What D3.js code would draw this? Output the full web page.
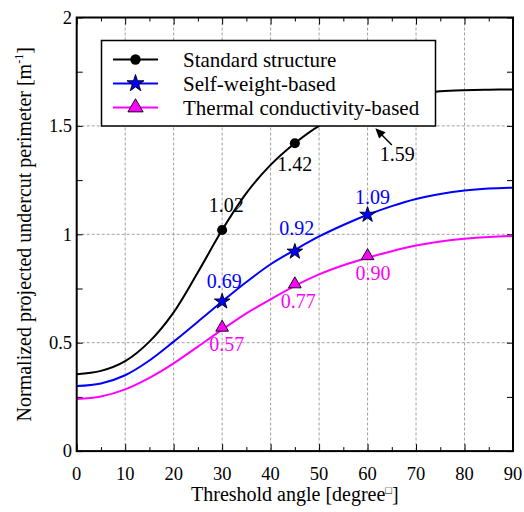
<!DOCTYPE html>
<html>
<head>
<meta charset="utf-8">
<script src="https://cdn.jsdelivr.net/npm/d3@7"></script>
<style>
  html, body { margin: 0; padding: 0; background: #fff; }
  svg { display: block; font-family: "Liberation Serif", "Times New Roman", serif; }
</style>
</head>
<body>
<div id="chart"></div>
<script>
// ---- data ----
const angles = [0, 5, 10, 15, 20, 25, 30, 35, 40, 45, 50, 55, 60, 65, 70, 75, 80, 85, 90];
const standardCurve = [0.355, 0.37, 0.415, 0.505, 0.64, 0.825, 1.02, 1.19, 1.32, 1.42, 1.50, 1.555, 1.595, 1.627, 1.648, 1.66, 1.665, 1.667, 1.668];
const selfWeightCurve = [0.30, 0.312, 0.35, 0.418, 0.505, 0.597, 0.69, 0.78, 0.862, 0.928, 0.99, 1.043, 1.09, 1.13, 1.163, 1.186, 1.202, 1.211, 1.215];
const thermalCurve = [0.24, 0.252, 0.285, 0.338, 0.405, 0.482, 0.56, 0.635, 0.70, 0.762, 0.815, 0.857, 0.892, 0.922, 0.948, 0.967, 0.98, 0.988, 0.992];

const markerAngles = [30, 45, 60];
const standardMarkers = [1.02, 1.42, 1.59];
const selfWeightMarkers = [0.69, 0.92, 1.09];
const thermalMarkers = [0.57, 0.77, 0.90];
const standardLabels = ["1.02", "1.42", "1.59"];
const selfWeightLabels = ["0.69", "0.92", "1.09"];
const thermalLabels = ["0.57", "0.77", "0.90"];

const seriesNames = ["Standard structure", "Self-weight-based", "Thermal conductivity-based"];
const xTicks = [0, 10, 20, 30, 40, 50, 60, 70, 80, 90];
const yTicks = [0, 0.5, 1, 1.5, 2];
const yTickLabels = ["0", "0.5", "1", "1.5", "2"];

// ---- layout ----
const W = 524, H = 512;
const pL = 76.7, pR = 513, pT = 17.5, pB = 451.1;

const svg = d3.select("#chart").append("svg").attr("width", W).attr("height", H);

const x = d3.scaleLinear().domain([0, 90]).range([pL, pR]);
const y = d3.scaleLinear().domain([0, 2]).range([pB, pT]);

// grid
const grid = svg.append("g").attr("stroke", "#a0a0a0").attr("stroke-width", 1).attr("stroke-dasharray", "3,2");
xTicks.slice(1, -1).forEach(t => {
  grid.append("line").attr("x1", x(t)).attr("x2", x(t)).attr("y1", pT).attr("y2", pB);
});
yTicks.slice(1, -1).forEach(t => {
  grid.append("line").attr("x1", pL).attr("x2", pR).attr("y1", y(t)).attr("y2", y(t));
});

// axes with inward ticks on all sides
const xMinor = d3.range(0, 91, 5);
const yMinor = d3.range(0, 2.001, 0.25);
const axB = svg.append("g").attr("transform", `translate(0,${pB})`)
  .call(d3.axisBottom(x).tickValues(xMinor).tickSizeInner(-5).tickSizeOuter(0).tickFormat(""));
const axT = svg.append("g").attr("transform", `translate(0,${pT})`)
  .call(d3.axisTop(x).tickValues(xMinor).tickSizeInner(-5).tickSizeOuter(0).tickFormat(""));
const axL = svg.append("g").attr("transform", `translate(${pL},0)`)
  .call(d3.axisLeft(y).tickValues(yMinor).tickSizeInner(-6).tickSizeOuter(0).tickFormat(""));
const axR = svg.append("g").attr("transform", `translate(${pR},0)`)
  .call(d3.axisRight(y).tickValues(yMinor).tickSizeInner(-6).tickSizeOuter(0).tickFormat(""));
axB.selectAll(".tick line").attr("stroke", "#000").attr("stroke-width", 1).attr("y2", d => (d % 10 === 0 ? -7 : -4));
axT.selectAll(".tick line").attr("stroke", "#000").attr("stroke-width", 1).attr("y2", d => (d % 10 === 0 ? 7 : 4));
[axL, axR].forEach(a => a.selectAll(".tick line").attr("stroke", "#000").attr("stroke-width", 1));
[axB, axT, axL, axR].forEach(a => a.select(".domain").remove());

// tick labels
svg.append("g").selectAll("text").data(xTicks).join("text")
  .attr("x", d => x(d)).attr("y", 480).attr("text-anchor", "middle")
  .attr("font-size", 18.5).attr("fill", "#000").text(d => d);
svg.append("g").selectAll("text").data(yTicks).join("text")
  .attr("x", 72).attr("y", d => y(d) + 6.3).attr("text-anchor", "end")
  .attr("font-size", 18.5).attr("fill", "#000").text((d, i) => yTickLabels[i]);

// axis titles
const xt = svg.append("text").attr("x", (pL + pR) / 2).attr("y", 501)
  .attr("text-anchor", "middle").attr("font-size", 20).attr("fill", "#000");
xt.append("tspan").text("Threshold angle [degree");
xt.append("tspan").attr("font-size", 11).attr("dy", -7).text("□");
xt.append("tspan").attr("dy", 7).text("]");

const yt = svg.append("text").attr("transform", `translate(31,${(pT + pB) / 2}) rotate(-90)`)
  .attr("text-anchor", "middle").attr("font-size", 20).attr("fill", "#000");
yt.append("tspan").text("Normalized projected undercut perimeter [m");
yt.append("tspan").attr("font-size", 12).attr("dy", -8).text("-1");
yt.append("tspan").attr("dy", 8).text("]");

// curves
const line = d3.line().x(d => x(d[0])).y(d => y(d[1])).curve(d3.curveCatmullRom.alpha(0.5));
const colors = ["#000000", "#0000ff", "#ff00ff"];
const curves = [standardCurve, selfWeightCurve, thermalCurve];
const plot = svg.append("g");
curves.forEach((c, i) => {
  plot.append("path").datum(angles.map((a, j) => [a, c[j]]))
    .attr("d", line).attr("fill", "none").attr("stroke", colors[i]).attr("stroke-width", 2);
});

// markers
const symbols = [d3.symbol(d3.symbolCircle, 80), d3.symbol(d3.symbolStar, 75), d3.symbol(d3.symbolTriangle, 70)];
const markerSets = [standardMarkers, selfWeightMarkers, thermalMarkers];
markerSets.forEach((m, i) => {
  plot.append("g").selectAll("path").data(markerAngles.map((a, j) => [a, m[j]])).join("path")
    .attr("transform", d => `translate(${x(d[0])},${y(d[1])})`)
    .attr("d", symbols[i]())
    .attr("fill", colors[i]).attr("stroke", "#000").attr("stroke-width", i === 0 ? 0 : 0.9);
});

// value labels (offsets in px from marker, centre of text)
const labelSets = [
  { labels: standardLabels, vals: standardMarkers, color: "#000", off: [[4, -25], [0, 21], null] },
  { labels: selfWeightLabels, vals: selfWeightMarkers, color: "#0000ff", off: [[2, -20], [2, -23.5], [5, -18]] },
  { labels: thermalLabels, vals: thermalMarkers, color: "#ff00ff", off: [[4.5, 16.5], [3.5, 17.5], [5.5, 17.5]] }
];
const labG = svg.append("g");
labelSets.forEach(s => {
  s.labels.forEach((lab, j) => {
    if (!s.off[j]) return;
    labG.append("text")
      .attr("x", x(markerAngles[j]) + s.off[j][0])
      .attr("y", y(s.vals[j]) + s.off[j][1] + 6.8)
      .attr("text-anchor", "middle").attr("font-size", 20).attr("fill", s.color).text(lab);
  });
});

// legend (drawn over the plot)
const lg = svg.append("g");
lg.append("rect").attr("x", 101.5).attr("y", 40.5).attr("width", 334).attr("height", 85.5)
  .attr("fill", "#fff").attr("stroke", "#000").attr("stroke-width", 1.5);
const rows = [59.5, 83.5, 107.5];
const legSymbols = [d3.symbol(d3.symbolCircle, 85), d3.symbol(d3.symbolStar, 90), d3.symbol(d3.symbolTriangle, 100)];
seriesNames.forEach((n, i) => {
  lg.append("line").attr("x1", 113).attr("x2", 158).attr("y1", rows[i]).attr("y2", rows[i])
    .attr("stroke", colors[i]).attr("stroke-width", 2);
  lg.append("path").attr("transform", `translate(135.5,${rows[i]})`).attr("d", legSymbols[i]())
    .attr("fill", colors[i]).attr("stroke", "#000").attr("stroke-width", i === 0 ? 0 : 0.9);
  lg.append("text").attr("x", 183).attr("y", rows[i] + 7).attr("font-size", 21).attr("fill", "#000").text(n);
});

// the 1.59 annotation with arrow (marker hidden behind legend)
const tipX = x(61.6), tipY = y(1.489), tailX = x(65.0), tailY = y(1.412);
const ang = Math.atan2(tipY - tailY, tipX - tailX);
const ah = 10, aw = 4.5;
svg.append("line").attr("x1", tailX).attr("y1", tailY)
  .attr("x2", tipX - Math.cos(ang) * ah * 0.8).attr("y2", tipY - Math.sin(ang) * ah * 0.8)
  .attr("stroke", "#000").attr("stroke-width", 1.5);
const bx = tipX - Math.cos(ang) * ah, by = tipY - Math.sin(ang) * ah;
svg.append("path").attr("d", `M${tipX},${tipY} L${bx + Math.sin(ang) * aw},${by - Math.cos(ang) * aw} L${bx - Math.sin(ang) * aw},${by + Math.cos(ang) * aw} Z`)
  .attr("fill", "#000");
svg.append("text").attr("x", x(66.1)).attr("y", y(1.368) + 6.8).attr("text-anchor", "middle")
  .attr("font-size", 20).attr("fill", "#000").text(standardLabels[2]);

// frame
svg.append("rect").attr("x", pL).attr("y", pT).attr("width", pR - pL).attr("height", pB - pT)
  .attr("fill", "none").attr("stroke", "#000").attr("stroke-width", 2);
</script>
</body>
</html>
